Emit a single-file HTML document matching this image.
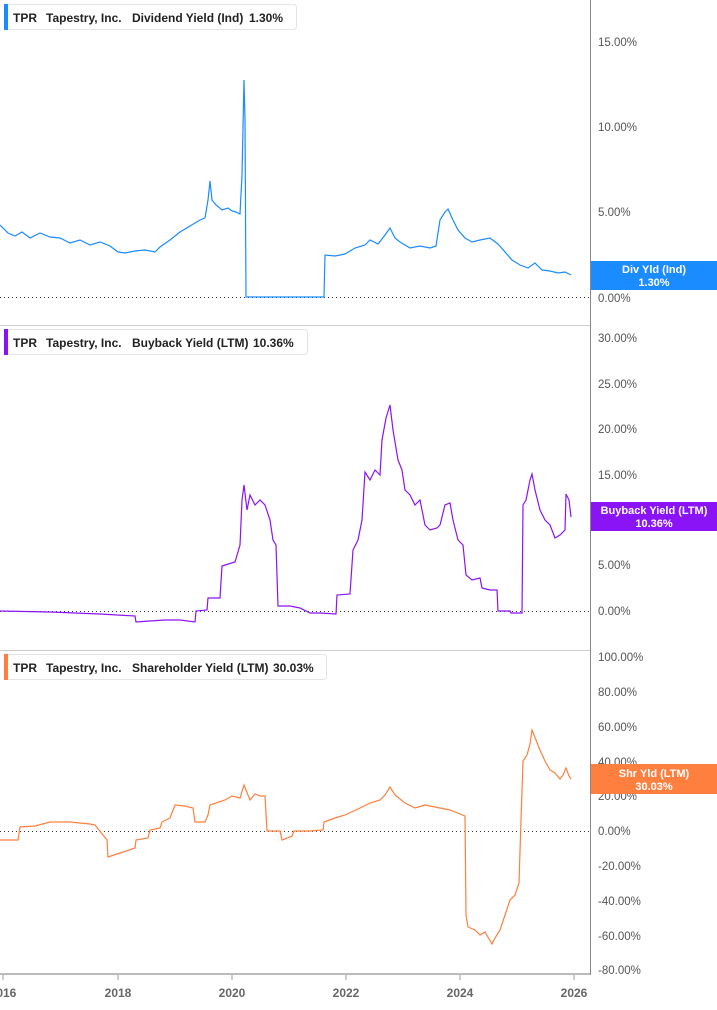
<!DOCTYPE html>
<html><head><meta charset="utf-8"><style>
body{margin:0;background:#fff;width:717px;height:1005px;overflow:hidden;font-family:"Liberation Sans",sans-serif}
svg text{font-family:"Liberation Sans",sans-serif}
</style></head><body>
<svg width="717" height="1005" viewBox="0 0 717 1005" xmlns="http://www.w3.org/2000/svg">
<g stroke="#ccc" stroke-width="1"><line x1="0" y1="325.5" x2="590" y2="325.5"/><line x1="0" y1="650.5" x2="590" y2="650.5"/></g>
<line x1="590.5" y1="0" x2="590.5" y2="975" stroke="#888"/>
<line x1="0" y1="974" x2="590" y2="974" stroke="#bbb" stroke-width="2"/>
<g stroke="#333" stroke-dasharray="1,3" stroke-width="1"><line x1="0" y1="297.5" x2="590" y2="297.5"/><line x1="0" y1="611.5" x2="590" y2="611.5"/><line x1="0" y1="831.5" x2="590" y2="831.5"/></g>
<g font-size="11.5" fill="#555">
<text x="598" y="46">15.00%</text><text x="598" y="131">10.00%</text><text x="598" y="216">5.00%</text><text x="598" y="302">0.00%</text>
<text x="598" y="342">30.00%</text><text x="598" y="388">25.00%</text><text x="598" y="433">20.00%</text><text x="598" y="479">15.00%</text><text x="598" y="524">10.00%</text><text x="598" y="569">5.00%</text><text x="598" y="615">0.00%</text>
<text x="598" y="661">100.00%</text><text x="598" y="696">80.00%</text><text x="598" y="731">60.00%</text><text x="598" y="766">40.00%</text><text x="598" y="800">20.00%</text><text x="598" y="835">0.00%</text><text x="598" y="870">-20.00%</text><text x="598" y="905">-40.00%</text><text x="598" y="940">-60.00%</text><text x="598" y="974">-80.00%</text>
</g>
<g font-size="12" font-weight="bold" fill="#666" text-anchor="middle">
<text x="3" y="997">2016</text><text x="118" y="997">2018</text><text x="232" y="997">2020</text><text x="346" y="997">2022</text><text x="460" y="997">2024</text><text x="574" y="997">2026</text>
</g>
<g stroke="#999"><line x1="3" y1="975" x2="3" y2="980"/><line x1="118" y1="975" x2="118" y2="980"/><line x1="232" y1="975" x2="232" y2="980"/><line x1="346" y1="975" x2="346" y2="980"/><line x1="460" y1="975" x2="460" y2="980"/><line x1="574" y1="975" x2="574" y2="980"/></g>
<polyline fill="none" stroke="#1a8cff" stroke-width="1.2" points="0,225 8,233 15,236 22,232 30,238 40,233 50,237 60,238 70,243 80,240 90,245 100,242 110,246 118,252 125,253 135,251 145,250 155,252 160,247 170,240 180,232 190,226 200,220 205,218 208,200 210,181 212,200 216,205 222,210 228,208 232,211 236,212 240,214 242,175 244,80 245,120 246,297 324,297 325,255 335,256 345,254 355,248 365,245 370,240 378,244 385,235 390,228 395,238 400,242 410,248 420,246 430,248 436,246 440,220 445,212 448,209 452,218 458,230 465,238 472,242 480,240 490,238 498,244 505,252 512,260 520,265 528,268 535,263 542,270 550,271 558,273 565,272 571,275"/>
<polyline fill="none" stroke="#8a14f5" stroke-width="1.2" points="0,611 50,612 100,614 135,616 136,622 150,621 165,620 180,620 195,622 196,611 207,610 208,598 220,598 222,566 235,562 240,545 242,500 244,485 247,510 250,495 255,505 260,500 265,505 270,520 273,540 276,545 278,606 290,606 300,608 310,613 320,613 336,614 337,595 350,594 353,550 358,540 362,520 365,472 370,480 375,470 380,475 382,440 386,418 390,405 393,430 398,460 402,470 405,490 410,495 415,505 420,500 425,525 430,530 437,528 440,525 445,505 450,503 453,520 458,540 463,545 466,575 472,580 480,578 482,588 490,590 497,590 498,611 510,611 511,613 522,613 523,505 526,500 530,480 532,474 535,490 540,510 545,520 550,525 555,538 560,535 565,530 566,494 569,500 571,517"/>
<polyline fill="none" stroke="#ff7f3f" stroke-width="1.2" points="0,840 18,840 20,827 35,826 50,822 70,822 90,824 95,825 107,840 108,857 120,853 135,848 136,840 148,838 150,830 160,828 162,822 170,818 175,805 185,806 193,808 195,822 205,822 208,815 210,805 225,800 232,796 240,798 244,785 246,790 250,800 255,794 260,796 265,796 267,831 280,831 282,840 292,836 294,831 310,831 323,830 324,822 335,818 345,815 360,808 370,803 380,800 385,795 390,787 395,795 405,803 415,808 425,805 440,808 450,810 455,812 465,816 466,915 468,927 475,930 480,935 485,932 492,944 495,938 500,930 505,915 510,900 515,895 519,883 521,820 523,761 527,755 530,744 532,730 536,740 540,750 545,761 550,770 555,773 560,779 563,775 566,768 569,776 571,779"/>
<g font-size="12" font-weight="bold" fill="#222">
<rect x="4.5" y="4.5" width="292" height="25" rx="3" fill="#fff" stroke="#e4e4e4"/><rect x="4" y="4" width="4" height="26" fill="#1a8cff"/>
<text x="13" y="22">TPR</text><text x="46" y="22">Tapestry, Inc.</text><text x="132" y="22">Dividend Yield (Ind)</text><text x="249" y="22">1.30%</text>
<rect x="4.5" y="329.5" width="303" height="25" rx="3" fill="#fff" stroke="#e4e4e4"/><rect x="4" y="329" width="4" height="26" fill="#8a14f5"/>
<text x="13" y="347">TPR</text><text x="46" y="347">Tapestry, Inc.</text><text x="132" y="347">Buyback Yield (LTM)</text><text x="253" y="347">10.36%</text>
<rect x="4.5" y="654.5" width="322" height="25" rx="3" fill="#fff" stroke="#e4e4e4"/><rect x="4" y="654" width="4" height="26" fill="#ff7f3f"/>
<text x="13" y="672">TPR</text><text x="46" y="672">Tapestry, Inc.</text><text x="132" y="672">Shareholder Yield (LTM)</text><text x="273" y="672">30.03%</text>
</g>
<g font-size="11" font-weight="bold" fill="#fff" text-anchor="middle">
<rect x="591" y="261" width="126" height="29" fill="#1a8cff"/><text x="654" y="273">Div Yld (Ind)</text><text x="654" y="286">1.30%</text>
<rect x="591" y="502" width="126" height="29" fill="#8a14f5"/><text x="654" y="514">Buyback Yield (LTM)</text><text x="654" y="527">10.36%</text>
<rect x="591" y="764" width="126" height="30" fill="#ff7f3f"/><text x="654" y="777">Shr Yld (LTM)</text><text x="654" y="790">30.03%</text>
</g>
</svg>
</body></html>
